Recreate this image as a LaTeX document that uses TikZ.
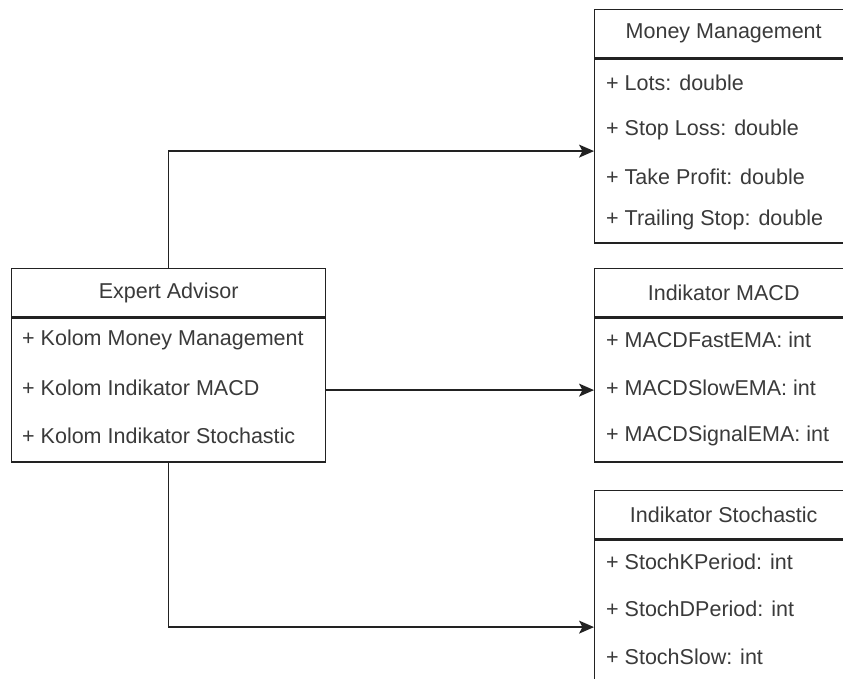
\documentclass[tikz,border=0pt]{standalone}
\usepackage{fontspec}
\setmainfont{Liberation Sans}
\usetikzlibrary{arrows.meta}
\definecolor{ink}{HTML}{222222}
\definecolor{txt}{HTML}{3A3A3A}
\begin{document}
\begin{tikzpicture}[x=1pt,y=-1pt,
  headbox/.style={draw=ink, line width=1.4pt, fill=white, anchor=north west,
    inner sep=0pt, text=txt, font=\fontsize{21.5}{25}\selectfont},
  bodybox/.style={draw=ink, line width=1.4pt, fill=white, anchor=north west, inner sep=0pt},
  attr/.style={anchor=west, inner sep=0pt, text=txt, font=\fontsize{21.5}{25}\selectfont},
  link/.style={draw=ink, line width=1.4pt, -{Stealth[length=15pt,width=13pt,inset=3.5pt]}}]
\useasboundingbox (0,0) rectangle (843,678);
\clip (0,0) rectangle (843,678);

% Expert Advisor class
\node[headbox, minimum width=314, minimum height=48] (ea) at (11,268) {Expert Advisor};
\node[bodybox, minimum width=314, minimum height=144] (eab) at (ea.south west) {};
\node[attr] (ea1) at (22,340) {+ Kolom Money Management};
\node[attr] (ea2) at (22,388) {+ Kolom Indikator MACD};
\node[attr] (ea3) at (22,436) {+ Kolom Indikator Stochastic};

% Money Management class
\node[headbox, minimum width=258, minimum height=48] (mm) at (594,9) {Money Management};
\node[bodybox, minimum width=258, minimum height=184] (mmb) at (mm.south west) {};
\node[attr] (mm1) at (606,83) {+ Lots: double};
\node[attr] (mm2) at (606,130) {+ Stop Loss: double};
\node[attr] (mm3) at (606,177) {+ Take Profit: double};
\node[attr] (mm4) at (606,220) {+ Trailing Stop: double};

% Indikator MACD class
\node[headbox, minimum width=258, minimum height=48] (mc) at (594,268) {Indikator MACD};
\node[bodybox, minimum width=258, minimum height=144] (mcb) at (mc.south west) {};
\node[attr] (mc1) at (606,340) {+ MACDFastEMA: int};
\node[attr] (mc2) at (606,388) {+ MACDSlowEMA: int};
\node[attr] (mc3) at (606,436) {+ MACDSignalEMA: int};

% Indikator Stochastic class
\node[headbox, minimum width=258, minimum height=48] (st) at (594,490) {Indikator Stochastic};
\node[bodybox, minimum width=258, minimum height=174] (stb) at (st.south west) {};
\node[attr] (st1) at (606,562) {+ StochKPeriod: int};
\node[attr] (st2) at (606,609) {+ StochDPeriod: int};
\node[attr] (st3) at (606,657) {+ StochSlow: int};

% Associations
\draw[link] (ea.north) |- (mmb.west);
\draw[link] (eab.east) -- (eab.east -| mcb.west);
\draw[link] (eab.south) |- (stb.west);
\end{tikzpicture}
\end{document}
